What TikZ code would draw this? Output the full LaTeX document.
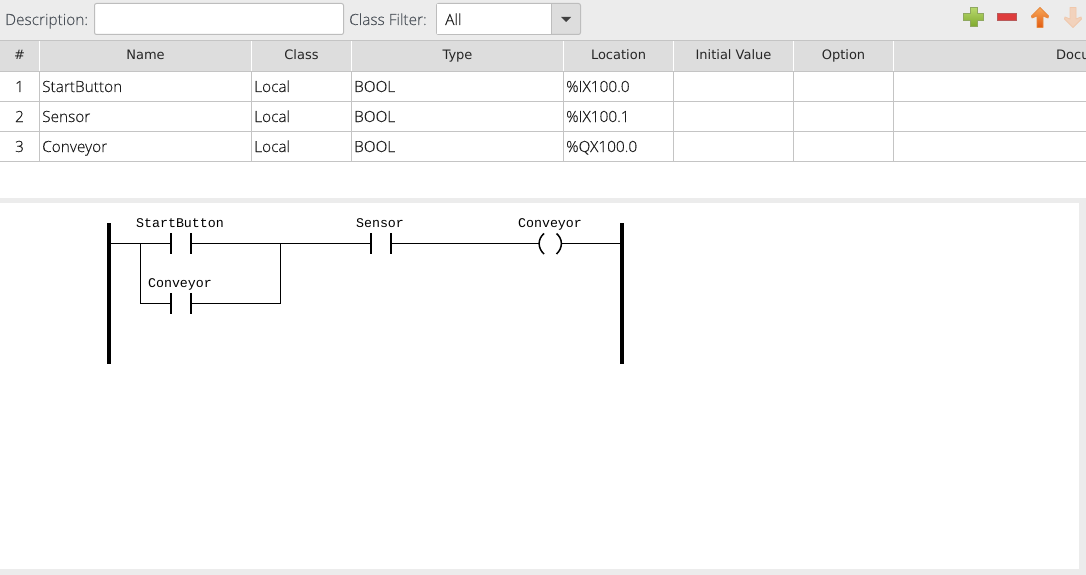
\documentclass[tikz,border=0pt]{standalone}
\usepackage{fontspec}
\setmainfont{Open Sans Light}[FakeBold=0.15]
\newfontfamily\hdrfont{DejaVu Sans}
\newfontfamily\monolabel{Liberation Mono}
\definecolor{panelgray}{HTML}{ECECEC}
\definecolor{headgray}{HTML}{DDDDDD}
\definecolor{gridgray}{HTML}{C4C4C4}
\definecolor{boxedge}{HTML}{BDBDBD}
\definecolor{formtext}{HTML}{4A5058}
\definecolor{celltext}{HTML}{1A1A1A}
\definecolor{plustop}{HTML}{B7D86C}
\definecolor{plusbot}{HTML}{7FA92E}
\definecolor{plusedge}{HTML}{8FA860}
\definecolor{minusfill}{HTML}{DE3C3C}
\definecolor{minusedge}{HTML}{B85A5A}
\definecolor{uptop}{HTML}{F8A858}
\definecolor{upbot}{HTML}{E25A10}
\definecolor{upedge}{HTML}{E88A40}
\definecolor{downfill}{HTML}{F2D2BC}
\definecolor{downedge}{HTML}{F0C8AC}
\tikzset{
  cell/.style={anchor=base west,inner sep=0pt,text=celltext,font=\fontsize{15.4}{18}\selectfont},
  numcell/.style={cell,anchor=base},
  headcell/.style={anchor=base,inner sep=0pt,text=black!85,font=\hdrfont\fontsize{13}{16}\selectfont},
  formlabel/.style={anchor=base west,inner sep=0pt,text=formtext,font=\fontsize{15.4}{18}\selectfont},
  varlabel/.style={anchor=base,inner sep=0pt,text=black,font=\monolabel\fontsize{13.3}{16}\selectfont},
  railbar/.style={fill=black,draw=none,inner sep=0pt,minimum width=4pt,minimum height=141pt},
  contactbar/.style={fill=black,draw=none,inner sep=0pt,minimum width=2pt,minimum height=21pt},
  wire/.style={draw=black,line width=1.1pt},
  coilarc/.style={draw=black,line width=1.5pt},
  gridline/.style={draw=gridgray,line width=1pt},
  headsep/.style={draw=white,line width=1pt},
  inputbox/.style={draw=boxedge,fill=white,rounded corners=2pt,line width=1pt}
}
\begin{document}
\begin{tikzpicture}[x=1pt,y=-1pt]
\useasboundingbox (0,0) rectangle (1086,575);
\fill[white] (0,0) rectangle (1086,575);
% toolbar and panel frames
\fill[panelgray] (0,0) rectangle (1086,41);
\fill[panelgray] (0,198) rectangle (1086,203);
\fill[panelgray] (1079,203) rectangle (1086,575);
\fill[panelgray] (0,569) rectangle (1086,575);
% toolbar
\node[formlabel] (desc) at (5,25) {Description:};
\draw[inputbox] (94.5,3.5) rectangle (343.5,34.5);
\node[formlabel] (filter) at (349,25) {Class Filter:};
\draw[inputbox,fill=headgray] (436.5,3.5) rectangle (580.5,34.5);
\fill[white] (437,4) rectangle (552,34);
\draw[draw=boxedge,line width=1pt] (551.5,3.5) -- (551.5,34.5);
\node[cell] (allval) at (445,25) {All};
\fill[black!75] (561,17) -- (571,17) -- (566,22) -- cycle;
% icons
\draw[draw=plusedge,top color=plustop,bottom color=plusbot,line width=.8pt]
  (970,7.5) -- (977,7.5) -- (977,13.5) -- (983.5,13.5) -- (983.5,20.5) -- (977,20.5) -- (977,26.5) -- (970,26.5) -- (970,20.5) -- (963.5,20.5) -- (963.5,13.5) -- (970,13.5) -- cycle;
\draw[draw=minusedge,fill=minusfill,line width=.8pt] (997.5,13.5) rectangle (1016.5,20.5);
\draw[draw=upedge,top color=uptop,bottom color=upbot,line width=.8pt,line join=round]
  (1040,7.5) -- (1048.5,16) -- (1048,18) -- (1043,16) -- (1043,27.5) -- (1037,27.5) -- (1037,16) -- (1032,18) -- (1031.5,16) -- cycle;
\draw[draw=downedge,fill=downfill,line width=.8pt,line join=round]
  (1073,27.5) -- (1081.5,19) -- (1081,17) -- (1076,19) -- (1076,7.5) -- (1070,7.5) -- (1070,19) -- (1065,17) -- (1064.5,19) -- cycle;
% table
\fill[headgray] (0,41) rectangle (1086,71);
\foreach \cx in {39.5,251.5,351.5,563.5,673.5,793.5,893.5}{
  \draw[headsep] (\cx,41) -- (\cx,71);
  \draw[gridline] (\cx,71) -- (\cx,162);
}
\foreach \ry in {41,71.5,101.5,131.5,161.5}{\draw[gridline] (0,\ry) -- (1086,\ry);}
\node[headcell] (hnum) at (19.5,60) {\#};
\node[headcell] (hname) at (145.5,60) {Name};
\node[headcell] (hclass) at (301.5,60) {Class};
\node[headcell] (htype) at (457.5,60) {Type};
\node[headcell] (hloc) at (618.5,60) {Location};
\node[headcell] (hinit) at (733.5,60) {Initial Value};
\node[headcell] (hopt) at (843.5,60) {Option};
\node[headcell,anchor=base west] (hdoc) at (1056,60) {Docu};
\node[numcell] (n1) at (19.5,92) {1};
\node[cell] (a1) at (42,92) {StartButton};
\node[cell] (b1) at (254,92) {Local};
\node[cell] (c1) at (354,92) {BOOL};
\node[cell] (d1) at (566,92) {\%IX100.0};
\node[numcell] (n2) at (19.5,122) {2};
\node[cell] (a2) at (42,122) {Sensor};
\node[cell] (b2) at (254,122) {Local};
\node[cell] (c2) at (354,122) {BOOL};
\node[cell] (d2) at (566,122) {\%IX100.1};
\node[numcell] (n3) at (19.5,152) {3};
\node[cell] (a3) at (42,152) {Conveyor};
\node[cell] (b3) at (254,152) {Local};
\node[cell] (c3) at (354,152) {BOOL};
\node[cell] (d3) at (566,152) {\%QX100.0};
% ladder
\node[railbar] (railL) at (108.5,293.5) {};
\node[railbar] (railR) at (622,293.5) {};
\node[contactbar] (s1) at (171.3,243.5) {};
\node[contactbar] (s2) at (191,243.5) {};
\node[contactbar] (k1) at (171.3,303.5) {};
\node[contactbar] (k2) at (191,303.5) {};
\node[contactbar] (p1) at (371,243.5) {};
\node[contactbar] (p2) at (391,243.5) {};
\coordinate (coilL) at (539,243.5);
\coordinate (coilR) at (561.5,243.5);
\coordinate (branchL) at (140.7,243.5);
\coordinate (branchR) at (280.5,243.5);
\draw[wire] (railL.east |- s1) -- (s1);
\draw[wire] (s2) -- (branchR) -- (p1);
\draw[wire] (branchL) |- (k1);
\draw[wire] (k2) -| (branchR);
\draw[wire] (p2) -- (coilL);
\draw[wire] (coilR) -- (railR.west |- coilR);
\draw[coilarc] (544,233.5) .. controls (537.5,239) and (537.5,248) .. (544,254);
\draw[coilarc] (556.5,233.5) .. controls (563,239) and (563,248) .. (556.5,254);
\node[varlabel] (ls) at (180,227) {StartButton};
\node[varlabel] (lk) at (180,287) {Conveyor};
\node[varlabel] (lp) at (380,227) {Sensor};
\node[varlabel] (lc) at (550,227) {Conveyor};
\end{tikzpicture}
\end{document}
